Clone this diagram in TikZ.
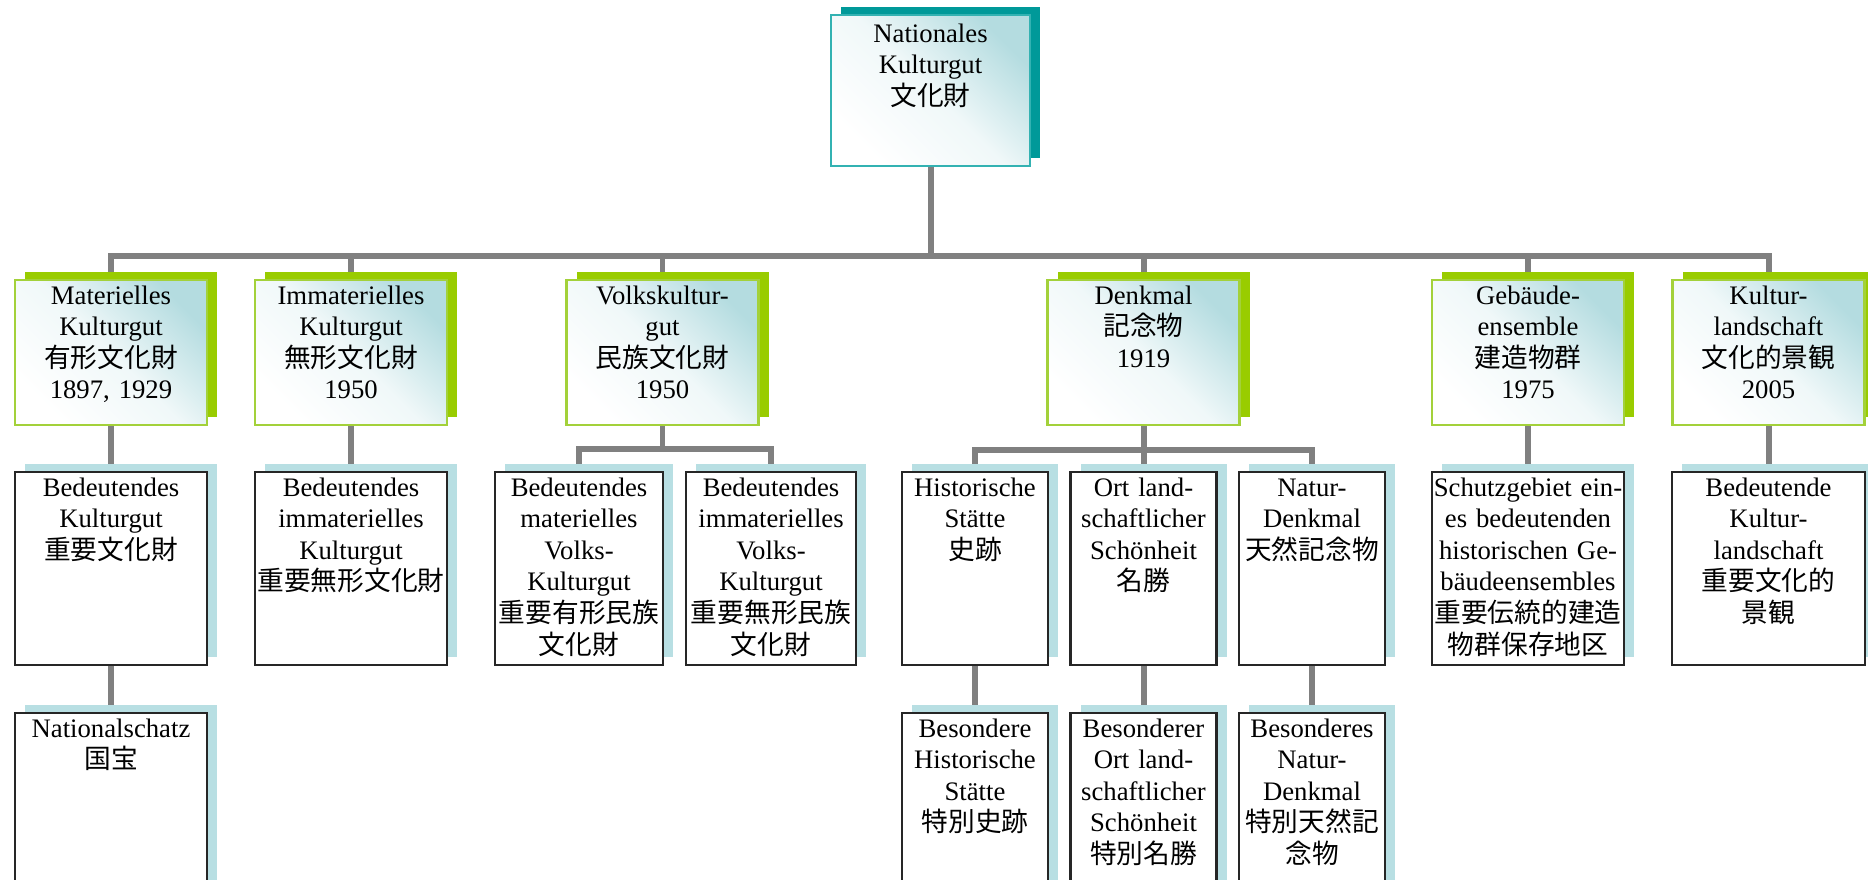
\documentclass[tikz,border=0pt]{standalone}
\usepackage{fontspec}
\setmainfont{Liberation Serif}
\newfontfamily\jp{Noto Sans CJK JP}
\usepackage{tikz}
\usetikzlibrary{shadows}
\usetikzlibrary{backgrounds}
\definecolor{linegray}{HTML}{808080}
\definecolor{topteal}{HTML}{009999}
\definecolor{topborder}{HTML}{33B2B2}
\definecolor{catgreen}{HTML}{99CC00}
\definecolor{catborder}{HTML}{A3D13A}
\definecolor{subblue}{HTML}{B8DFE3}
\definecolor{fadeblue}{HTML}{B4DCE0}
\tikzset{
   boxtext/.style={font=\fontsize{7.6}{9}\selectfont, anchor=north,
      align=center, inner sep=0pt, text height=0.24cm},
   fadefill/.style={top color=fadeblue, bottom color=white,
      middle color=white!80!fadeblue, shading angle=-45},
   topbox/.style={boxtext, text width=1.99cm, text height=0.27cm,
      text depth=1.24cm, draw=topborder, line width=0.6pt, fadefill,
      general shadow={fill=topteal, shadow xshift=0.1cm, shadow yshift=0.08cm}},
   catbox/.style={boxtext, text width=1.92cm, text depth=1.21cm,
      draw=catborder, line width=0.6pt, fadefill,
      general shadow={fill=catgreen, shadow xshift=0.1cm, shadow yshift=0.08cm}},
   subbox/.style={boxtext, text width=1.92cm, text depth=1.69cm,
      draw=black!85, fill=white, line width=0.6pt,
      general shadow={fill=subblue, shadow xshift=0.1cm, shadow yshift=0.08cm}},
   link/.style={draw=linegray, line width=1.7pt},
}
\begin{document}
\begin{tikzpicture}
   \useasboundingbox (0,0) rectangle (18.68,-8.79);
   \clip (0,0) rectangle (18.68,-8.79);
   \node[topbox] (nat) at (9.305,-0.14) {Nationales\\Kulturgut\\{\jp 文化財}};
   % first level
   \node[catbox] (mat) at (1.11,-2.79) {Materielles\\Kulturgut\\{\jp 有形文化財}\\1897, 1929};
   \node[catbox] (immat) at (3.51,-2.79) {Immaterielles\\Kulturgut\\{\jp 無形文化財}\\1950};
   \node[catbox] (volk) at (6.625,-2.79) {Volkskultur-\\gut\\{\jp 民族文化財}\\1950};
   \node[catbox] (denk) at (11.435,-2.79) {Denkmal\\{\jp 記念物}\\1919};
   \node[catbox] (geb) at (15.28,-2.79) {Gebäude-\\ensemble\\{\jp 建造物群}\\1975};
   \node[catbox] (kland) at (17.685,-2.79) {Kultur-\\landschaft\\{\jp 文化的景観}\\2005};
   % second level
   \node[subbox] (bkg) at (1.11,-4.71) {Bedeutendes\\Kulturgut\\{\jp 重要文化財}};
   \node[subbox] (bikg) at (3.51,-4.71) {Bedeutendes\\immaterielles\\Kulturgut\\{\jp 重要無形文化財}};
   \node[subbox, text width=1.68cm] (bmvk) at (5.79,-4.71) {Bedeutendes\\materielles\\Volks-\\Kulturgut\\{\jp 重要有形民族}\\{\jp 文化財}};
   \node[subbox, text width=1.70cm] (bivk) at (7.71,-4.71) {Bedeutendes\\immaterielles\\Volks-\\Kulturgut\\{\jp 重要無形民族}\\{\jp 文化財}};
   \node[subbox, text width=1.46cm] (hist) at (9.75,-4.71) {Historische\\Stätte\\{\jp 史跡}};
   \node[subbox, text width=1.46cm] (ort) at (11.435,-4.71) {Ort land-\\schaftlicher\\Schönheit\\{\jp 名勝}};
   \node[subbox, text width=1.46cm] (natd) at (13.12,-4.71) {Natur-\\Denkmal\\{\jp 天然記念物}};
   \node[subbox] (schutz) at (15.28,-4.71) {Schutzgebiet ein-\\es bedeutenden\\historischen Ge-\\bäudeensembles\\{\jp 重要伝統的建造}\\{\jp 物群保存地区}};
   \node[subbox, text width=1.93cm] (bkl) at (17.685,-4.71) {Bedeutende\\Kultur-\\landschaft\\{\jp 重要文化的}\\{\jp 景観}};
   % third level
   \node[subbox] (nschatz) at (1.11,-7.12) {Nationalschatz\\{\jp 国宝}};
   \node[subbox, text width=1.46cm] (bhist) at (9.75,-7.12) {Besondere\\Historische\\Stätte\\{\jp 特別史跡}};
   \node[subbox, text width=1.46cm] (bort) at (11.435,-7.12) {Besonderer\\Ort land-\\schaftlicher\\Schönheit\\{\jp 特別名勝}};
   \node[subbox, text width=1.46cm] (bnatd) at (13.12,-7.12) {Besonderes\\Natur-\\Denkmal\\{\jp 特別天然記}\\{\jp 念物}};
   \begin{scope}[on background layer]
      \foreach \n in {mat,immat,volk,denk,geb,kland}
         \draw[link] (nat.south) -- ++(0,-0.89) -| (\n.north);
      \foreach \n in {bmvk,bivk}
         \draw[link] (volk.south) -- ++(0,-0.23) -| (\n.north);
      \foreach \n in {hist,ort,natd}
         \draw[link] (denk.south) -- ++(0,-0.24) -| (\n.north);
      \foreach \a/\b in {mat/bkg,immat/bikg,geb/schutz,kland/bkl,bkg/nschatz,hist/bhist,ort/bort,natd/bnatd}
         \draw[link] (\a.south) -- (\b.north);
   \end{scope}
\end{tikzpicture}
\end{document}
